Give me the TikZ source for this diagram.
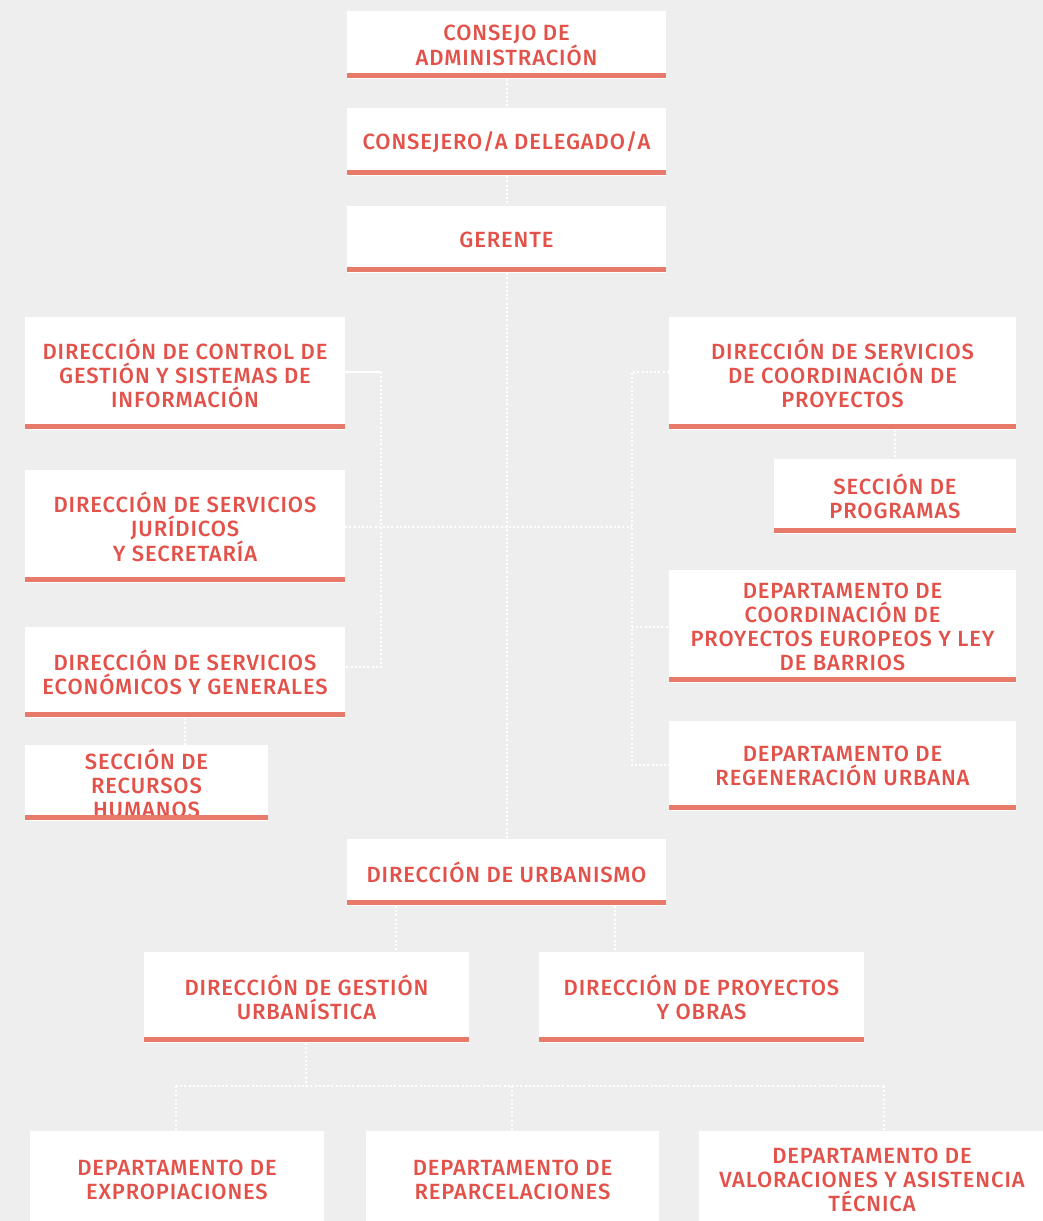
\documentclass[tikz,border=0pt]{standalone}
\usepackage{fontspec}
\setmainfont{Fira Sans Medium}[LetterSpace=4]
\definecolor{bg}{HTML}{EEEEEE}
\definecolor{txt}{HTML}{E3524A}
\definecolor{barc}{HTML}{E87A6A}
\begin{document}
\begin{tikzpicture}[x=1pt,y=-1pt,
  box/.style={fill=white, inner sep=0pt, text=txt, align=center,
    font=\fontsize{22}{24}\selectfont},
  conn/.style={draw=white, line width=2pt, dash pattern=on 2pt off 2.2pt},
  solidconn/.style={draw=white, line width=1.6pt}]
\fill[bg] (0,0) rectangle (1043,1221);
\useasboundingbox (0,0) rectangle (1043,1221);
\newcommand{\bx}[6]{% name, x1, y1, x2, y2, text
  \node[box, minimum width={#4-#2}, minimum height={#5-#3}] (#1) at ({(#2+#4)/2},{(#3+#5)/2+1}) {#6};
  \fill[barc] (#2,#5-5) rectangle (#4,#5);
}
\bx{consejo}{347}{10}{666}{78}{CONSEJO DE\\ADMINISTRACIÓN}
\bx{consejero}{347}{107}{666}{175}{CONSEJERO/A DELEGADO/A}
\bx{gerente}{347}{205}{666}{272}{GERENTE}
\bx{control}{25}{316}{345}{429}{DIRECCIÓN DE CONTROL DE\\GESTIÓN Y SISTEMAS DE\\INFORMACIÓN}
\bx{juridicos}{25}{469}{345}{582}{DIRECCIÓN DE SERVICIOS\\JURÍDICOS\\Y SECRETARÍA}
\bx{econ}{25}{626}{345}{717}{DIRECCIÓN DE SERVICIOS\\ECONÓMICOS Y GENERALES}
\bx{rrhh}{25}{744}{268}{820}{SECCIÓN DE\\RECURSOS\\HUMANOS}
\bx{coordproy}{669}{316}{1016}{429}{DIRECCIÓN DE SERVICIOS\\DE COORDINACIÓN DE\\PROYECTOS}
\bx{programas}{774}{458}{1016}{533}{SECCIÓN DE\\PROGRAMAS}
\bx{europeos}{669}{569}{1016}{682}{DEPARTAMENTO DE\\COORDINACIÓN DE\\PROYECTOS EUROPEOS Y LEY\\DE BARRIOS}
\bx{regen}{669}{720}{1016}{810}{DEPARTAMENTO DE\\REGENERACIÓN URBANA}
\bx{urbanismo}{347}{838}{666}{905}{DIRECCIÓN DE URBANISMO}
\bx{gestion}{144}{951}{469}{1042}{DIRECCIÓN DE GESTIÓN\\URBANÍSTICA}
\bx{proyobras}{539}{951}{864}{1042}{DIRECCIÓN DE PROYECTOS\\Y OBRAS}
\bx{expro}{30}{1130}{324}{1228}{DEPARTAMENTO DE\\EXPROPIACIONES}
\bx{repar}{366}{1130}{659}{1228}{DEPARTAMENTO DE\\REPARCELACIONES}
\bx{valor}{699}{1130}{1045}{1228}{DEPARTAMENTO DE\\VALORACIONES Y ASISTENCIA\\TÉCNICA}
% coordinates
\coordinate (lbtop) at (381,372);
\coordinate (lbbot) at (381,667);
\coordinate (econr) at (345,667);
\coordinate (rbtop) at (632,372);
\coordinate (rbbot) at (632,765);
\coordinate (u1) at (396,906);
\coordinate (u2) at (615,906);
\coordinate (g1) at (306,1043);
\coordinate (b0) at (306,1086);
\coordinate (bl) at (176,1086);
\coordinate (bm) at (512,1086);
\coordinate (br) at (884,1086);
% central spine
\draw[conn] (consejo.south) -- (consejero.north);
\draw[conn] (consejero.south) -- (gerente.north);
\draw[conn] (gerente.south) -- (urbanismo.north);
% left bus
\draw[solidconn] (control.east |- lbtop) -- (lbtop);
\draw[conn] (lbtop) -- (lbbot) -- (econr);
\draw[conn] (juridicos.east) -- (juridicos.east -| rbtop);
\draw[conn] (econ.south) -- (econ.south |- rrhh.north);
% right bus
\draw[conn] (coordproy.west |- rbtop) -- (rbtop) -- (rbbot) -- (regen.west |- rbbot);
\draw[conn] (europeos.west -| rbtop) -- (europeos.west);
\draw[conn] (programas.north |- coordproy.south) -- (programas.north);
% urbanismo
\draw[conn] (u1) -- (u1 |- gestion.north);
\draw[conn] (u2) -- (u2 |- proyobras.north);
\draw[conn] (g1) -- (b0);
\draw[conn] (bl) -- (br);
\draw[conn] (bl) -- (bl |- expro.north);
\draw[conn] (bm) -- (bm |- repar.north);
\draw[conn] (br) -- (br |- valor.north);
\end{tikzpicture}
\end{document}
